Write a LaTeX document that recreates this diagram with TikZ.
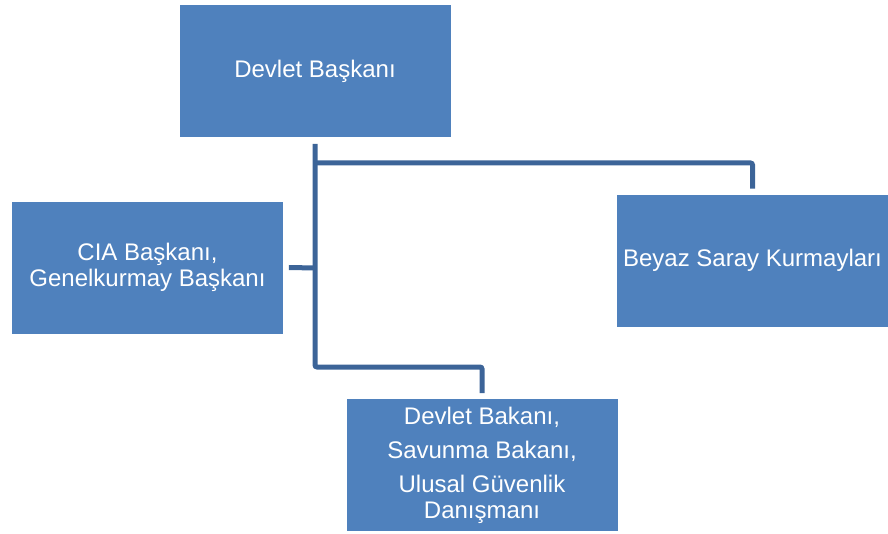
\documentclass[tikz,border=0pt]{standalone}
\usepackage{fontspec}
\setmainfont{Liberation Sans}
\usetikzlibrary{positioning}

\definecolor{kutumavi}{RGB}{79,129,189}
\definecolor{cizgimavi}{RGB}{60,100,152}

\tikzset{
  kutu/.style={rectangle, fill=kutumavi, draw=white, line width=0.8pt,
    text=white, align=center, font=\fontsize{24}{26}\selectfont,
    minimum width=272pt, minimum height=133pt, inner sep=0pt},
  baglanti/.style={draw=cizgimavi, line width=5pt, rounded corners=2pt}
}

\begin{document}
\begin{tikzpicture}[x=1pt,y=-1pt]
   \useasboundingbox (0,0) rectangle (888,534);

   % kutular
   \node[kutu] (baskan) at (315,71) {Devlet Başkanı};
   \node[kutu] (cia) at (147.5,267.5) {CIA Başkanı,\\Genelkurmay Başkanı};
   \node[kutu] (beyaz) at (752.5,260.5) {Beyaz Saray Kurmayları};
   \node[kutu] (bakan) at (482,465) {Devlet Bakanı,\\[8pt]Savunma Bakanı,\\[8pt]Ulusal Güvenlik\\Danışmanı};

   % baglantilar
   \coordinate (kol) at (315,163);
   \coordinate (sol) at (315,268);
   \coordinate (alt) at (315,367);

   \draw[baglanti] ([yshift=-6pt]baskan.south) -- (alt) -| ([yshift=5pt]bakan.north);
   \draw[baglanti] (kol) -| ([yshift=5pt]beyaz.north);
   \draw[baglanti] (sol) -- ([xshift=5pt]cia.east);

\end{tikzpicture}
\end{document}
